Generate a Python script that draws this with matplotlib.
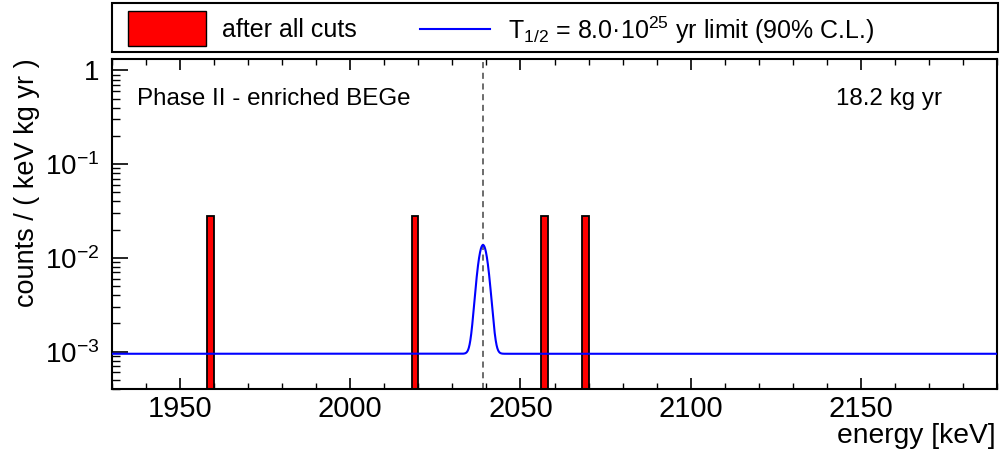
import numpy as np
import matplotlib
matplotlib.use("Agg")
import matplotlib.pyplot as plt
from matplotlib.patches import Rectangle
from matplotlib.lines import Line2D
from matplotlib.ticker import FixedLocator, MultipleLocator, LogLocator, FuncFormatter, NullFormatter

plt.rcParams["font.family"] = ["Liberation Sans", "DejaVu Sans"]
plt.rcParams["mathtext.fontset"] = "custom"
plt.rcParams["mathtext.rm"] = "Liberation Sans"
plt.rcParams["mathtext.it"] = "Liberation Sans:italic"
plt.rcParams["mathtext.bf"] = "Liberation Sans:bold"
plt.rcParams["mathtext.default"] = "regular"

# --- data -------------------------------------------------------------
event_energies = [1959.0, 2019.0, 2057.0, 2069.0]   # keV, events after all cuts
energy_range = (1930.0, 2190.0)                     # keV
bin_width = 2.0                                     # keV
exposure = 18.2                                     # kg yr
q_bb = 2039.0                                       # keV
bkg_level = 9.5e-4                                  # counts/(keV kg yr)
peak_height = 0.0128                                # counts/(keV kg yr)
peak_sigma = 1.4                                    # keV
y_range = (4.0e-4, 1.34)
x_major_ticks = [1950, 2000, 2050, 2100, 2150]
y_major_ticks = [1e-3, 1e-2, 1e-1, 1.0]

# --- figure -----------------------------------------------------------
fig = plt.figure(figsize=(10.0, 4.54), dpi=100)
ax = fig.add_axes([0.112, 0.1432, 0.885, 0.7279])

bins = np.arange(energy_range[0], energy_range[1] + bin_width, bin_width)
counts, edges = np.histogram(event_energies, bins=bins)
density = counts / (bin_width * exposure)
filled = counts > 0
ax.bar(edges[:-1][filled], density[filled], width=bin_width, align="edge",
       bottom=y_range[0] * 0.5, color="#ff0000", edgecolor="black",
       linewidth=1.3, zorder=2)

x = np.linspace(energy_range[0], energy_range[1], 6000)
y = bkg_level + peak_height * np.exp(-0.5 * ((x - q_bb) / peak_sigma) ** 2)
ax.plot(x, y, color="#0000ff", lw=1.5, zorder=3)

ax.axvline(q_bb, color="#444444", lw=1.1, dashes=(4, 3), zorder=1)

ax.set_xlim(*energy_range)
ax.set_yscale("log")
ax.set_ylim(*y_range)

ax.xaxis.set_major_locator(FixedLocator(x_major_ticks))
ax.xaxis.set_minor_locator(MultipleLocator(10))
ax.yaxis.set_major_locator(FixedLocator(y_major_ticks))
ax.yaxis.set_minor_locator(LogLocator(base=10, subs=np.arange(2, 10), numticks=20))
ax.yaxis.set_minor_formatter(NullFormatter())


def log_label(v, pos):
    if np.isclose(v, 1.0):
        return "1"
    return r"$10^{%d}$" % int(round(np.log10(v)))


ax.yaxis.set_major_formatter(FuncFormatter(log_label))

ax.tick_params(axis="x", which="both", direction="in", top=True, bottom=True,
               labelsize=21, pad=4)
ax.tick_params(axis="x", which="major", length=8, width=1.2)
ax.tick_params(axis="x", which="minor", length=4.5, width=1.0)
ax.tick_params(axis="y", which="both", direction="in", left=True, right=False,
               labelsize=20, pad=9)
ax.tick_params(axis="y", which="major", length=11.5, width=1.2)
ax.tick_params(axis="y", which="minor", length=6, width=1.0)
for s in ax.spines.values():
    s.set_linewidth(1.5)

ax.text(0.028, 0.876, "Phase II - enriched BEGe", transform=ax.transAxes,
        fontsize=17.4, va="center", ha="left")
ax.text(0.938, 0.876, "18.2 kg yr", transform=ax.transAxes,
        fontsize=17.4, va="center", ha="right")

fig.text(0.027, 1 - 58 / 454, "counts / ( keV kg yr )", rotation=90,
         fontsize=19.5, ha="center", va="top")
fig.text(0.996, 1 - 443 / 454, "energy [keV]", fontsize=20.3,
         ha="right", va="baseline")

# legend box above the frame
W, H = 1000.0, 454.0
fig.add_artist(Rectangle((112 / W, 1 - 52 / H), 886 / W, 49 / H,
                         transform=fig.transFigure, facecolor="white",
                         edgecolor="black", linewidth=1.5))
fig.add_artist(Rectangle((128 / W, 1 - 46 / H), 78 / W, 35 / H,
                         transform=fig.transFigure, facecolor="#ff0000",
                         edgecolor="black", linewidth=1.0))
fig.text(222 / W, 1 - 30 / H, "after all cuts", fontsize=18,
         ha="left", va="center")
fig.add_artist(Line2D([420 / W, 490 / W], [1 - 29 / H, 1 - 29 / H],
                      transform=fig.transFigure, color="#0000ff", lw=1.5))
fig.text(508 / W, 1 - 30 / H,
         r"T$_{1/2}$ = 8.0·10$^{25}$ yr limit (90% C.L.)", fontsize=18,
         ha="left", va="center")

fig.savefig("out.png", dpi=100)
